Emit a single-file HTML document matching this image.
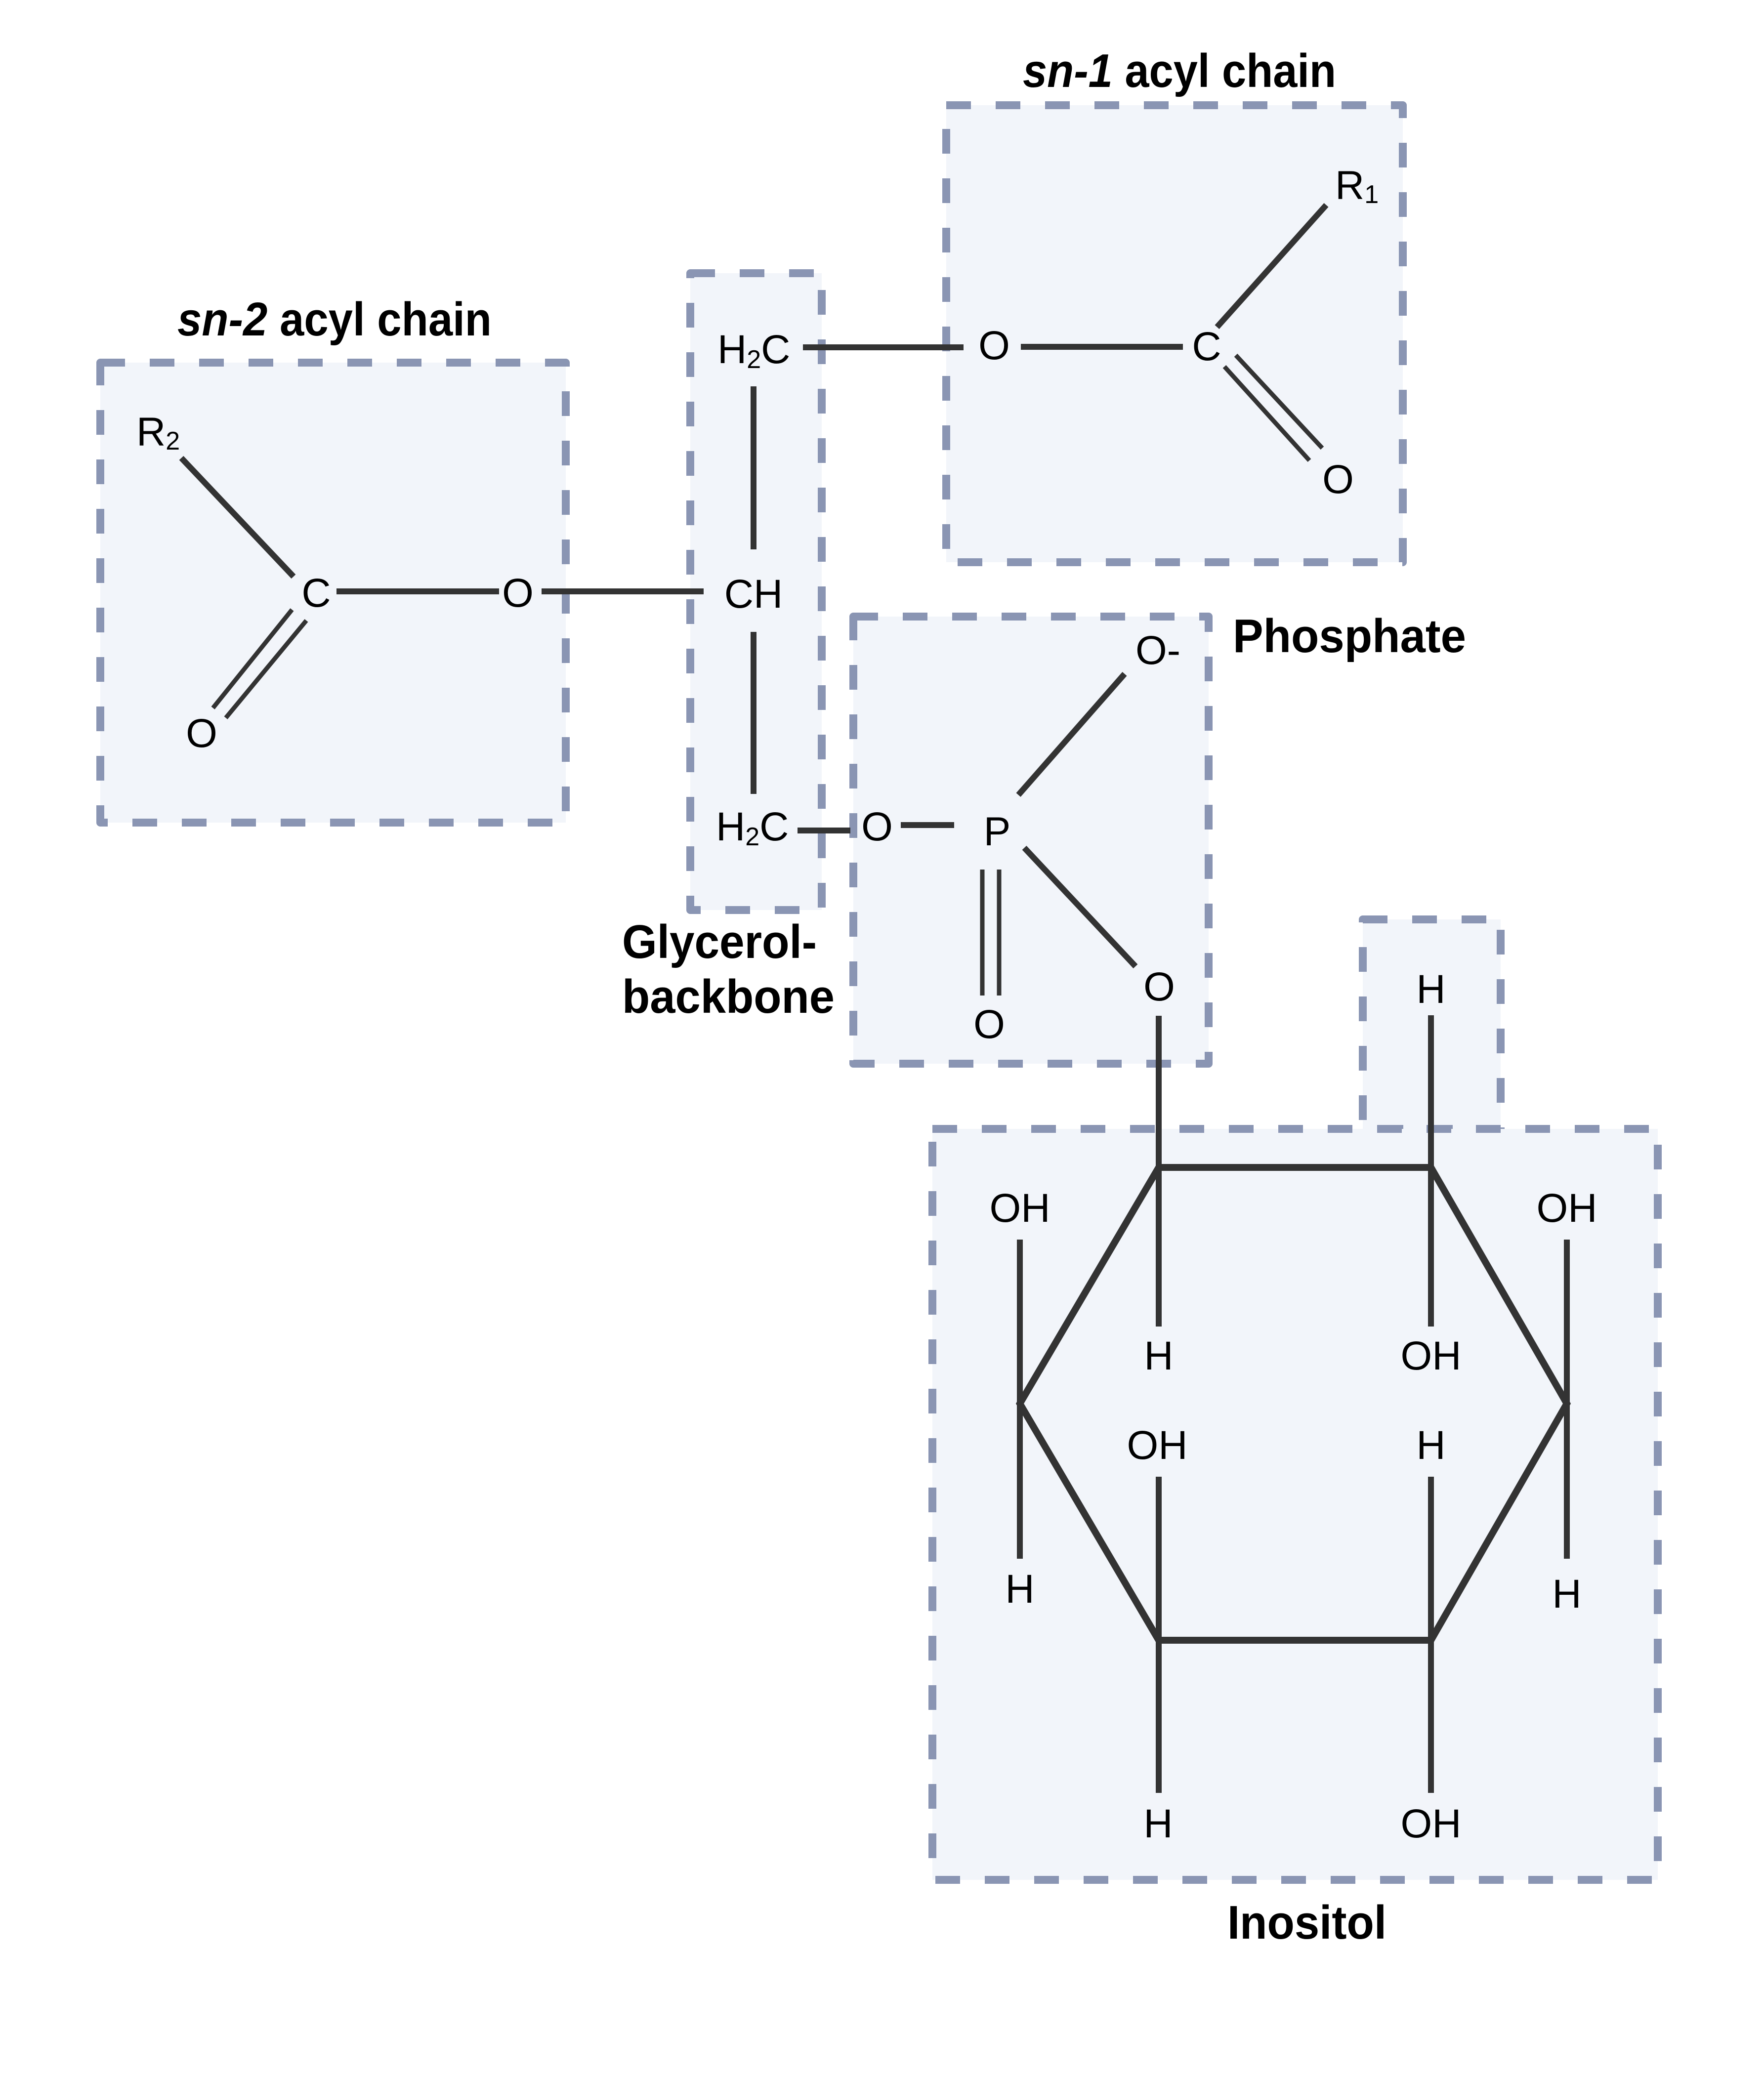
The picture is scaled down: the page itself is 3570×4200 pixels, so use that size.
<!DOCTYPE html>
<html>
<head>
<meta charset="utf-8">
<style>
html,body{margin:0;padding:0;background:#ffffff;}
svg{display:block;}
text{font-family:"Liberation Sans",Arial,sans-serif;fill:#000;}
.a{font-size:82px;}
.t{font-size:96px;font-weight:bold;}
</style>
</head>
<body>
<svg width="3570" height="4200" viewBox="0 0 3570 4200" xmlns="http://www.w3.org/2000/svg">
<rect x="0" y="0" width="3570" height="4200" fill="#ffffff"/>

<!-- Boxes -->
<g fill="#f2f5fa" stroke="#8a95b3" stroke-width="16" stroke-dasharray="50 50" stroke-linejoin="round">
  <rect x="203" y="734" width="942" height="931"/>
  <rect x="1397" y="553" width="266" height="1289"/>
  <rect x="1915" y="213" width="924" height="925"/>
  <rect x="1727" y="1248" width="719" height="905"/>
  <rect x="2758" y="1861" width="279" height="424"/>
  <rect x="1887" y="2285" width="1468" height="1520"/>
</g>

<!-- Bonds -->
<g stroke="#333333" stroke-width="12" fill="none" stroke-linecap="butt">
  <!-- sn-2 -->
  <line x1="367" y1="927" x2="594" y2="1167"/>
  <line x1="681" y1="1197" x2="1010" y2="1197"/>
  <line x1="1096" y1="1197" x2="1424" y2="1197"/>
  <!-- glycerol -->
  <line x1="1525" y1="782" x2="1525" y2="1112"/>
  <line x1="1525" y1="1279" x2="1525" y2="1607"/>
  <line x1="1625" y1="703" x2="1950" y2="703"/>
  <!-- sn-1 -->
  <line x1="2066" y1="702" x2="2394" y2="702"/>
  <line x1="2463" y1="662" x2="2684" y2="415"/>
  <!-- phosphate -->
  <line x1="1614" y1="1681" x2="1721" y2="1681"/>
  <line x1="1823" y1="1670" x2="1931" y2="1670"/>
  <line x1="2061" y1="1609" x2="2276" y2="1364"/>
  <line x1="2073" y1="1716" x2="2298" y2="1956"/>
  <!-- inositol substituents -->
  <line x1="2345" y1="2056" x2="2345" y2="2685"/>
  <line x1="2896" y1="2055" x2="2896" y2="2685"/>
  <line x1="2064" y1="2509" x2="2064" y2="3155"/>
  <line x1="3171" y1="2509" x2="3171" y2="3155"/>
  <line x1="2345" y1="2989" x2="2345" y2="3629"/>
  <line x1="2896" y1="2989" x2="2896" y2="3629"/>
</g>
<g stroke="#333333" stroke-width="9" fill="none">
  <!-- double bonds -->
  <line x1="591" y1="1234" x2="431" y2="1433"/>
  <line x1="620" y1="1256" x2="457" y2="1453"/>
  <line x1="2501" y1="719" x2="2676" y2="907"/>
  <line x1="2478" y1="742" x2="2650" y2="932"/>
  <line x1="1988" y1="1760" x2="1988" y2="2015"/>
  <line x1="2022" y1="1760" x2="2022" y2="2015"/>
</g>
<!-- ring -->
<polygon points="2345,2363 2896,2363 3171,2841 2896,3320 2345,3320 2064,2841" fill="none" stroke="#333333" stroke-width="14" stroke-linejoin="miter"/>

<!-- Atom labels -->
<g class="a">
  <text x="276" y="902">R<tspan font-size="52" dy="8">2</tspan></text>
  <text x="640" y="1228" text-anchor="middle">C</text>
  <text x="1048" y="1228" text-anchor="middle">O</text>
  <text x="408" y="1512" text-anchor="middle">O</text>

  <text x="1452" y="735">H<tspan font-size="52" dy="10">2</tspan><tspan dy="-10">C</tspan></text>
  <text x="1525" y="1230" text-anchor="middle">CH</text>
  <text x="1449" y="1701">H<tspan font-size="52" dy="10">2</tspan><tspan dy="-10">C</tspan></text>

  <text x="2012" y="727" text-anchor="middle">O</text>
  <text x="2442" y="729" text-anchor="middle">C</text>
  <text x="2702" y="403">R<tspan font-size="52" dy="8">1</tspan></text>
  <text x="2708" y="998" text-anchor="middle">O</text>

  <text x="1775" y="1701" text-anchor="middle">O</text>
  <text x="2018" y="1711" text-anchor="middle">P</text>
  <text x="2298" y="1344">O-</text>
  <text x="2002" y="2101" text-anchor="middle">O</text>
  <text x="2346" y="2025" text-anchor="middle">O</text>

  <text x="2896" y="2030" text-anchor="middle">H</text>
  <text x="2064" y="2473" text-anchor="middle">OH</text>
  <text x="3171" y="2473" text-anchor="middle">OH</text>
  <text x="2345" y="2772" text-anchor="middle">H</text>
  <text x="2896" y="2772" text-anchor="middle">OH</text>
  <text x="2342" y="2953" text-anchor="middle">OH</text>
  <text x="2896" y="2953" text-anchor="middle">H</text>
  <text x="2064" y="3244" text-anchor="middle">H</text>
  <text x="3171" y="3254" text-anchor="middle">H</text>
  <text x="2344" y="3719" text-anchor="middle">H</text>
  <text x="2896" y="3719" text-anchor="middle">OH</text>
</g>

<!-- Titles -->
<g class="t">
  <text x="359" y="679" textLength="636" lengthAdjust="spacingAndGlyphs"><tspan font-style="italic">sn-2</tspan> acyl chain</text>
  <text x="2070" y="176" textLength="634" lengthAdjust="spacingAndGlyphs"><tspan font-style="italic">sn-1</tspan> acyl chain</text>
  <text x="2495" y="1320" textLength="472" lengthAdjust="spacingAndGlyphs">Phosphate</text>
  <text x="1259" y="1939" textLength="394" lengthAdjust="spacingAndGlyphs">Glycerol-</text>
  <text x="1259" y="2050" textLength="430" lengthAdjust="spacingAndGlyphs">backbone</text>
  <text x="2484" y="3924" textLength="322" lengthAdjust="spacingAndGlyphs">Inositol</text>
</g>
</svg>
</body>
</html>
